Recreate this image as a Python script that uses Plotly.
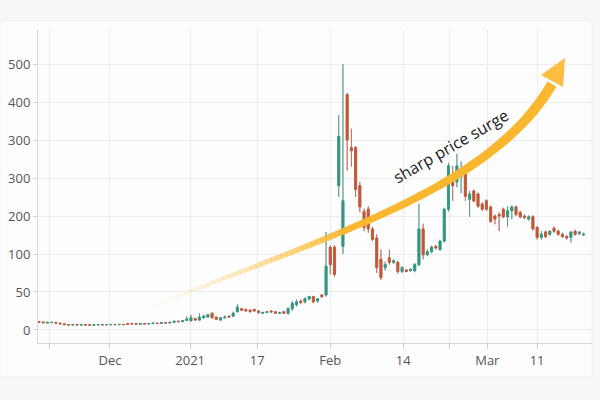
import math
import plotly.graph_objects as go

# ---------------- data (y in axis units) ----------------
open_ = [11,10.5,9,9.5,10,9,8,7,6.5,7,6.5,7,6.8,6.3,6.6,7,6.7,6.8,7.2,6.9,
         7.3,8.2,8.6,8.4,7.6,8.5,7.8,8.3,9,8.5,9.6,9,10,11.5,10.8,12.5,
         12,15,13,16,17,22,17,13,16,18,18,24,28,27,26,27,25,22,23,25,24,22,24,22,28,33,38,37,41,44,38,46,46,
         109,109,190,110,310,240,240,190,156,159,133,121,93,82,95,89,89,77,79,78,78,86,133,99,103,110,106,117,159,196,195,202,212,
         172,183,179,166,170,162,150,152,159,149,157,162,155,150,146,149,135,122,129,126,134,130,126,123,122,130,127,125]
high = [11.5,11,10.4,10.5,10.3,9.3,8.2,7.3,7.3,7.2,7.2,7.2,7,7,7.2,7.2,7.2,7.4,7.4,7.5,
        7.6,8.5,8.9,8.7,8.4,8.8,8.7,9.2,9.3,9.8,10,10.3,11.8,12,13,18,
        20,16,22,20,21,23,18,17,19,19,24,34,29,28,27,28,26,24,25,26,25,24,25,30,38,40,40,43,45,45,42,47,129,
        111,112,283,350,312,265,242,195,160,163,136,126,106,90,106,93,91,84,80,81,88,166,140,106,111,112,119,161,220,216,232,222,215,
        183,185,181,168,172,164,152,155,161,163,164,164,157,152,151,151,137,130,131,131,136,132,128,125,130,132,130,128]
low = [9.8,9.2,8.8,9.2,8.7,7.8,6.8,6.3,6.3,6.3,6.3,6.3,6.1,6.1,6.4,6.5,6.5,6.6,6.7,6.7,
       6.8,7.2,7.7,7.4,7.4,7.6,7.6,8.1,8.3,8.3,8.8,8.8,9.8,10.5,10.5,12,
       11,12,12,15,16,15,13,12,15,16,17,23,25,24,23,24,21,21,22,22,21,21,21,20,25,31,34,35,39,35,36,42,44,
       73,70,175,100,210,215,175,155,130,128,117,75,66,78,86,87,74,75,76,77,76,84,93,97,101,106,104,115,156,170,188,180,170,
       149,168,161,157,157,141,139,130,147,136,146,150,147,146,144,131,119,119,121,124,128,124,121,119,115,124,125,124]
close = [10,9.5,10,10,9,8,7,6.5,7,6.5,7,6.5,6.3,6.8,7,6.7,7,7.2,6.9,7.3,
         7,7.4,7.9,7.6,8.2,7.8,8.5,9,8.5,9.5,9,10,11.5,10.8,12.5,14.5,
         16,13,17,18,20,16,14,16,17,17,22,30,26,25,24,25,23,23,24,24,22,23,22,28,35,37,36,41,44,37,41,44,84,
         86,73,255,170,250,236,185,162,135,133,119,82,69,86,89,91,77,82,77,80,86,133,99,103,109,108,117,159,216,190,216,212,176,
         179,170,163,159,159,143,146,150,149,157,162,152,149,148,149,133,122,126,123,130,130,126,123,121,129,126,129,126]
n_days = len(close)
assert len(open_) == len(high) == len(low) == n_days
day_index = list(range(n_days))

x_tick_pos = [2.4, 16.8, 35.8, 51.7, 69.0, 86.3, 97.2, 106.2, 118.0]
x_tick_text = ["", "Dec", "2021", "17", "Feb", "14", "", "Mar", "11"]
y_tick_pos = [0, 50, 100, 150, 200, 250, 300, 350]
y_tick_text = ["0", "50", "100", "200", "300", "300", "400", "500"]

annotation_text = "sharp price surge"

# ---------------- style ----------------
UP = "#2a9c7f"
DOWN = "#cc5430"
WICK = "#9a9a9a"

L, R, T, B = 38, 8, 30, 57
W, H = 600, 400
PW, PH = W - L - R, H - T - B


def to_paper(px, py):
    return (px - L) / PW, (H - B - py) / PH


fig = go.Figure()
# wicks (grey) + body outlines
fig.add_trace(go.Candlestick(
    x=day_index, open=open_, high=high, low=low, close=close,
    increasing=dict(line=dict(color=WICK, width=1), fillcolor=UP),
    decreasing=dict(line=dict(color=WICK, width=1), fillcolor=DOWN),
    whiskerwidth=0, showlegend=False, hoverinfo="skip"))
# coloured bodies on top
fig.add_trace(go.Candlestick(
    x=day_index, open=open_, high=high, low=low, close=close,
    increasing=dict(line=dict(color=UP, width=0.6), fillcolor=UP),
    decreasing=dict(line=dict(color=DOWN, width=0.6), fillcolor=DOWN),
    whiskerwidth=0, showlegend=False, hoverinfo="skip"))

# ---------------- curved gradient arrow (decoration, in paper coords) ----------------
P0, P1, P2, P3 = (140, 311), (330, 235), (490, 190), (552, 84)


def bez(t):
    a = (1 - t) ** 3
    b = 3 * (1 - t) ** 2 * t
    c = 3 * (1 - t) * t ** 2
    d = t ** 3
    return (a * P0[0] + b * P1[0] + c * P2[0] + d * P3[0],
            a * P0[1] + b * P1[1] + c * P2[1] + d * P3[1])


def width(t):
    return 2.0 + 8.5 * t ** 0.7


def edge(t):
    e = 1e-3
    x0, y0 = bez(max(t - e, 0))
    x1, y1 = bez(min(t + e, 1))
    dx, dy = x1 - x0, y1 - y0
    n = math.hypot(dx, dy)
    nx, ny = -dy / n, dx / n
    x, y = bez(t)
    w = width(t) / 2
    return (x + nx * w, y + ny * w), (x - nx * w, y - ny * w)


def path_of(pts):
    s = ""
    for i, (px, py) in enumerate(pts):
        xp, yp = to_paper(px, py)
        s += ("M" if i == 0 else "L") + f"{xp:.5f},{yp:.5f} "
    return s + "Z"


shapes = []
steps = 40
t_solid = 0.40
for i in range(steps):
    ta = t_solid * i / steps
    tb = t_solid * (i + 1) / steps + 0.002
    a1, a2 = edge(ta)
    b1, b2 = edge(tb)
    f = (i + 0.5) / steps
    alpha = min(1.0, f ** 1.1)
    r = 249
    g = int(226 - (226 - 183) * f)
    bl = int(150 - (150 - 48) * f)
    shapes.append(dict(type="path", xref="paper", yref="paper",
                       path=path_of([a1, b1, b2, a2]),
                       fillcolor=f"rgba({r},{g},{bl},{alpha:.3f})",
                       line=dict(width=0), layer="above"))
# solid part
ts = [t_solid + (1 - t_solid) * k / 40 for k in range(41)]
left = [edge(t)[0] for t in ts]
right = [edge(t)[1] for t in ts]
shapes.append(dict(type="path", xref="paper", yref="paper",
                   path=path_of(left + right[::-1]),
                   fillcolor="#f9b730", line=dict(width=0), layer="above"))
# arrow head
shapes.append(dict(type="path", xref="paper", yref="paper",
                   path=path_of([(565, 58), (541, 75), (563, 87)]),
                   fillcolor="#fbbd42", line=dict(width=0), layer="above"))

ax, ay = to_paper(451, 146)
fig.add_annotation(x=ax, y=ay, xref="paper", yref="paper", text=annotation_text,
                   showarrow=False, textangle=-30, xanchor="center", yanchor="middle",
                   font=dict(family="Open Sans", size=16, color="#1c1c1c"))

# card background
cx0, cy0 = to_paper(0, 21)
cx1, cy1 = to_paper(592, 377)
shapes.insert(0, dict(type="rect", xref="paper", yref="paper", x0=cx0, y0=cy1, x1=cx1, y1=cy0,
                      fillcolor="#fdfdfd", line=dict(color="#f1f1f1", width=1), layer="below"))

fig.update_layout(
    width=W, height=H,
    margin=dict(l=L, r=R, t=T, b=B),
    paper_bgcolor="#f7f7f7",
    plot_bgcolor="rgba(0,0,0,0)",
    shapes=shapes,
    font=dict(family="Open Sans", size=13, color="#555555"),
    showlegend=False,
    xaxis=dict(
        range=[-0.24, 131.0], rangeslider=dict(visible=False),
        tickmode="array", tickvals=x_tick_pos, ticktext=x_tick_text,
        showgrid=True, gridcolor="#ececec", gridwidth=1,
        showline=True, linecolor="#d6d6d6", linewidth=1,
        ticks="outside", ticklen=5, tickcolor="#d0d0d0",
        zeroline=False, fixedrange=True),
    yaxis=dict(
        range=[-17.2, 395],
        tickmode="array", tickvals=y_tick_pos, ticktext=y_tick_text,
        showgrid=True, gridcolor="#ececec", gridwidth=1,
        showline=True, linecolor="#d6d6d6", linewidth=1,
        ticks="outside", ticklen=4, tickcolor="#d0d0d0",
        zeroline=False, fixedrange=True),
)

fig.write_html("out.html")
